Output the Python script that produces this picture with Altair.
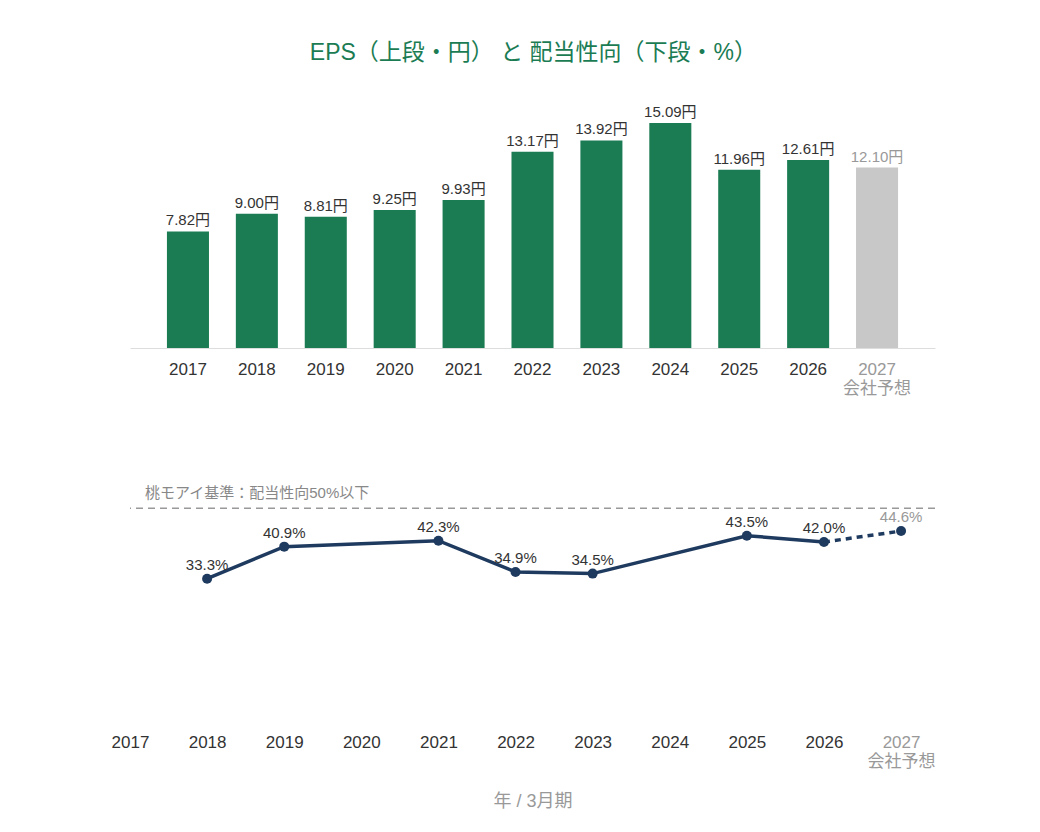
import altair as alt
import pandas as pd

# ---- data ----
eps_years = ["2017", "2018", "2019", "2020", "2021", "2022", "2023", "2024", "2025", "2026", "2027"]
eps_values = [7.82, 9.00, 8.81, 9.25, 9.93, 13.17, 13.92, 15.09, 11.96, 12.61, 12.10]
eps_kind = ["実績"] * 10 + ["予想"]

payout_years = [2018, 2019, 2021, 2022, 2023, 2025, 2026, 2027]
payout_values = [33.3, 40.9, 42.3, 34.9, 34.5, 43.5, 42.0, 44.6]

axis_years = list(range(2017, 2028))
threshold = [50]

GREEN = "#1b7c54"
GREY_BAR = "#c8c8c8"
NAVY = "#1f3a5f"
TXT = "#333333"
MUTED = "#999999"
FONT = "Liberation Sans, Noto Sans CJK JP"

eps_df = pd.DataFrame({"year": eps_years, "eps": eps_values, "kind": eps_kind})
eps_df["label"] = [f"{v:.2f}円" for v in eps_values]

pay_df = pd.DataFrame({"year": payout_years, "ratio": payout_values})
pay_df["label"] = [f"{v:.1f}%" for v in payout_values]
solid_df = pay_df[pay_df["year"] <= 2026]
dash_df = pay_df[pay_df["year"] >= 2026]

thr_df = pd.DataFrame({"y": threshold})

# ---- top chart: EPS bars ----
xb = alt.X(
    "year:N",
    sort=eps_years,
    scale=alt.Scale(paddingInner=0.39, paddingOuter=0.536),
    axis=alt.Axis(
        title=None,
        labelAngle=0,
        ticks=False,
        domainColor="#dddddd",
        labelFontSize=17,
        labelPadding=13,
        labelLineHeight=19,
        labelColor={"condition": {"test": "datum.value == '2027'", "value": MUTED}, "value": TXT},
        labelExpr="datum.value == '2027' ? ['2027', '会社予想'] : datum.label",
    ),
)
yb = alt.Y("eps:Q", scale=alt.Scale(domain=[0, 16.5], nice=False), axis=None)

bars = alt.Chart(eps_df).mark_bar().encode(
    x=xb,
    y=yb,
    color=alt.Color("kind:N", scale=alt.Scale(domain=["実績", "予想"], range=[GREEN, GREY_BAR]), legend=None),
)
bar_text = alt.Chart(eps_df).mark_text(dy=-11, fontSize=15, baseline="middle").encode(
    x=alt.X("year:N", sort=eps_years),
    y="eps:Q",
    text="label:N",
    color=alt.condition("datum.year == '2027'", alt.value(MUTED), alt.value(TXT)),
)
top = alt.layer(bars, bar_text).properties(width=805, height=246)

# ---- bottom chart: payout ratio line ----
xl = alt.X(
    "year:Q",
    scale=alt.Scale(domain=[2017, 2027.44], nice=False, zero=False),
    axis=alt.Axis(
        title="年 / 3月期",
        titleColor=MUTED,
        titleFontSize=18,
        titleFontWeight="normal",
        titlePadding=23,
        values=axis_years,
        format="d",
        grid=False,
        ticks=False,
        domain=False,
        labelFlush=False,
        labelFontSize=17,
        labelPadding=15,
        labelLineHeight=19,
        labelColor={"condition": {"test": "datum.value == 2027", "value": MUTED}, "value": TXT},
        labelExpr="datum.value == 2027 ? ['2027', '会社予想'] : datum.label",
    ),
)
yl = alt.Y("ratio:Q", scale=alt.Scale(domain=[0, 56], nice=False), axis=None)

rule = alt.Chart(thr_df).mark_rule(color="#999999", strokeDash=[7, 5], strokeWidth=1.5).encode(
    y=alt.Y("y:Q", scale=alt.Scale(domain=[0, 56], nice=False), axis=None)
)
rule_text = alt.Chart(thr_df).mark_text(
    align="left", baseline="middle", dy=-15, fontSize=15, color="#888888"
).encode(
    x=alt.value(15),
    y=alt.Y("y:Q"),
    text=alt.value("桃モアイ基準：配当性向50%以下"),
)
line_solid = alt.Chart(solid_df).mark_line(color=NAVY, strokeWidth=3.5).encode(x=xl, y=yl)
line_dash = alt.Chart(dash_df).mark_line(color=NAVY, strokeWidth=3.5, strokeDash=[6, 5]).encode(
    x="year:Q", y="ratio:Q"
)
points = alt.Chart(pay_df).mark_point(filled=True, size=100, color=NAVY, opacity=1).encode(
    x="year:Q", y="ratio:Q"
)
pt_text = alt.Chart(pay_df).mark_text(dy=-14, fontSize=15, baseline="middle").encode(
    x="year:Q",
    y="ratio:Q",
    text="label:N",
    color=alt.condition("datum.year == 2027", alt.value(MUTED), alt.value(TXT)),
)
bottom = alt.layer(rule, line_solid, line_dash, points, pt_text, rule_text).properties(width=805, height=236)

chart = (
    alt.vconcat(top, bottom, spacing=87)
    .properties(
        title=alt.TitleParams(
            "EPS（上段・円） と 配当性向（下段・%）",
            color=GREEN,
            fontSize=23,
            fontWeight="normal",
            anchor="middle",
            offset=37,
            dx=10,
        ),
        padding={"left": 111, "top": 42, "right": 20, "bottom": 10},
    )
    .configure(font=FONT)
    .configure_view(strokeWidth=0)
)

chart.save("out.html", embed_options={"renderer": "svg", "actions": False})
